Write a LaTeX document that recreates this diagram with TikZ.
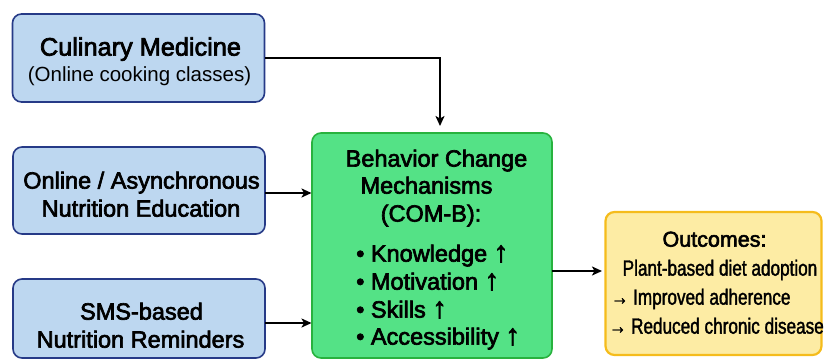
\documentclass[tikz,border=0pt]{standalone}
\usepackage{fontspec}
\setmainfont{Liberation Sans}
\newfontfamily\med[FakeBold=2.8]{Liberation Sans}
\newfontfamily\narrowf[FakeStretch=0.78,FakeBold=1.6]{Liberation Sans}
\usetikzlibrary{arrows.meta}
\definecolor{bfill}{RGB}{189,215,240}
\definecolor{bdraw}{RGB}{38,58,135}
\definecolor{gfill}{RGB}{84,226,134}
\definecolor{gdraw}{RGB}{40,178,62}
\definecolor{yfill}{RGB}{253,236,164}
\definecolor{ydraw}{RGB}{245,188,28}
\newcommand{\uparr}{{\fontsize{29}{29}\selectfont ↑}}
\tikzset{
  box/.style={rectangle, rounded corners=9pt, line width=1.6pt, inner sep=0pt},
  bluebox/.style={box, fill=bfill, draw=bdraw},
  greenbox/.style={box, fill=gfill, draw=gdraw},
  yellowbox/.style={box, fill=yfill, draw=ydraw, line width=2.2pt},
  txt/.style={inner sep=0pt, anchor=mid, font=\med\fontsize{23.5}{25}\selectfont},
  sub/.style={inner sep=0pt, anchor=mid, font=\fontsize{20.5}{22}\selectfont},
  outl/.style={inner sep=0pt, anchor=mid, font=\narrowf\fontsize{22}{24}\selectfont},
  arr/.style={line width=2pt, -{Stealth[length=10pt,width=9pt,inset=2.5pt]}}
}
\begin{document}
\begin{tikzpicture}[x=1pt,y=-1pt]
\useasboundingbox (0,0) rectangle (824,361);
% boxes
\node[bluebox, minimum width=252pt, minimum height=88pt] (b1) at (138.5,58) {};
\node[bluebox, minimum width=252pt, minimum height=87pt] (b2) at (139,190.5) {};
\node[bluebox, minimum width=252pt, minimum height=79pt] (b3) at (139,318.5) {};
\node[greenbox, minimum width=240pt, minimum height=225pt] (g) at (432,245.5) {};
\node[yellowbox, minimum width=216pt, minimum height=143pt] (o) at (713.5,283.5) {};
% box 1 text
\node[txt, font=\med\fontsize{25.3}{27}\selectfont] (t1a) at (140.5,53) {Culinary Medicine};
\node[sub] (t1b) at (139.5,79) {(Online cooking classes)};
% box 2 text
\node[txt] (t2a) at (141.5,186) {Online / Asynchronous};
\node[txt] (t2b) at (141,214) {Nutrition Education};
% box 3 text
\node[txt] (t3a) at (141.5,317) {SMS-based};
\node[txt] (t3b) at (140.5,345) {Nutrition Reminders};
% green text
\node[txt] (g1) at (436.5,164) {Behavior Change};
\node[txt] (g2) at (426.5,191) {Mechanisms};
\node[txt] (g3) at (431,219) {(COM-B):};
\node[txt, anchor=mid west] (k1) at (356,259) {• Knowledge \uparr};
\node[txt, anchor=mid west] (k2) at (356,287) {• Motivation \uparr};
\node[txt, anchor=mid west] (k3) at (356,315) {• Skills \uparr};
\node[txt, anchor=mid west] (k4) at (356,342) {• Accessibility \uparr};
% outcomes text
\node[txt, font=\med\fontsize{21.5}{23}\selectfont] (o1) at (714.5,244) {Outcomes:};
\node[outl] (o2) at (720,273) {Plant-based diet adoption};
\node[outl, anchor=mid west] (o3) at (611,302) {→ Improved adherence};
\node[outl, anchor=mid west] (o4) at (609,331) {→ Reduced chronic disease};
% connectors
\coordinate (gtop) at (440,133);
\draw[arr, shorten >=7pt] (b1.east) -| (gtop);
\coordinate (b2r) at (265,193);
\coordinate (g2l) at (312,193);
\draw[arr, shorten >=0.5pt] (b2r) -- (g2l);
\coordinate (b3r) at (265,323);
\coordinate (g3l) at (312,323);
\draw[arr, shorten >=0.5pt] (b3r) -- (g3l);
\coordinate (gr) at (552,271);
\coordinate (ol) at (605,271);
\draw[arr, shorten >=3pt] (gr) -- (ol);
\end{tikzpicture}
\end{document}
